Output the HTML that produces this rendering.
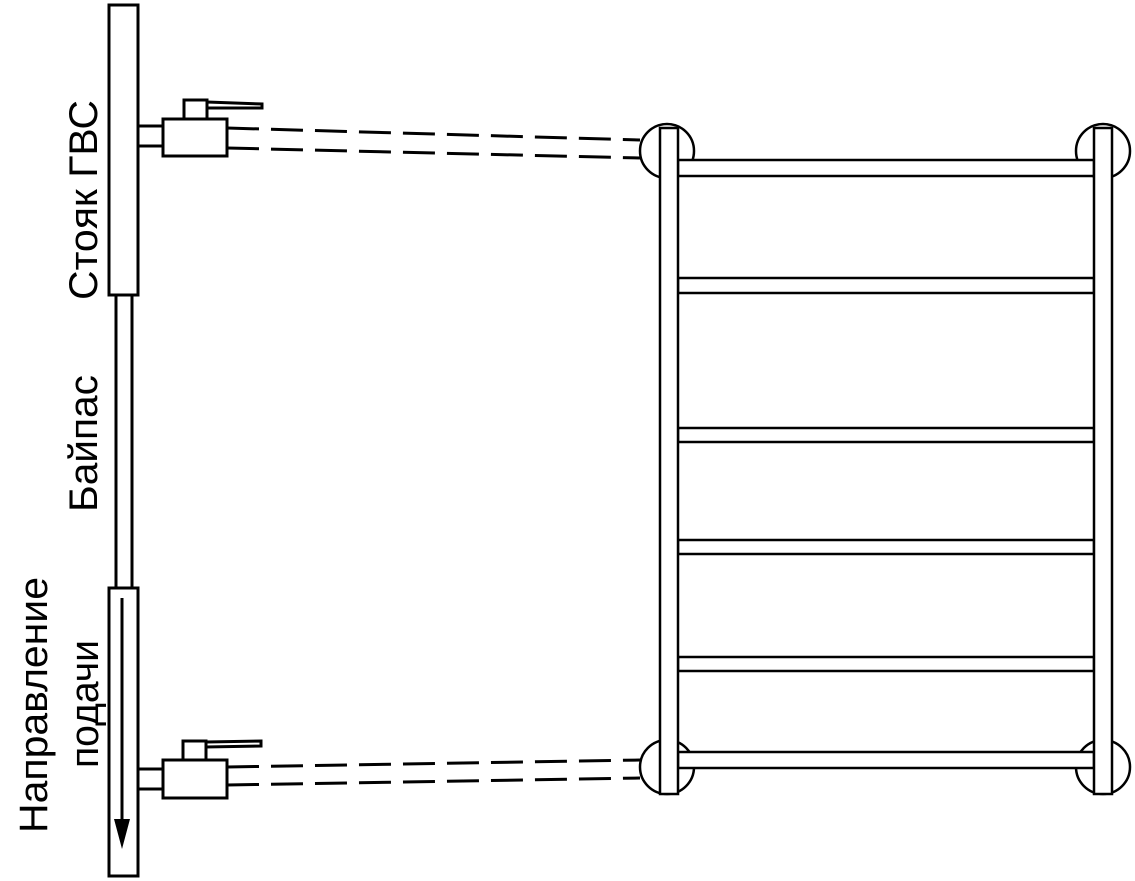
<!DOCTYPE html>
<html><head><meta charset="utf-8"><style>html,body{margin:0;padding:0;background:#fff}svg{display:block}</style></head>
<body>
<svg width="1135" height="881" viewBox="0 0 1135 881" xmlns="http://www.w3.org/2000/svg">
<g fill="#fff" stroke="#000" stroke-width="3">
<rect x="109" y="5" width="29" height="290"/>
<rect x="116" y="295" width="16" height="293"/>
<rect x="109" y="588" width="29" height="288"/>
<rect x="138" y="126" width="25" height="20"/>
<rect x="184" y="100" width="23" height="19"/>
<polygon points="207,102 262,104 262,108 207,108"/>
<rect x="163" y="119" width="64" height="37"/>
<rect x="138" y="769" width="25" height="20"/>
<rect x="183" y="741" width="23" height="19"/>
<polygon points="206,742 261,741 261,746 206,747"/>
<rect x="163" y="760" width="64" height="38"/>
</g>
<g stroke="#000" stroke-width="3" fill="none">
<line x1="227" y1="128" x2="640" y2="140" stroke-dasharray="32,12"/>
<line x1="227" y1="148" x2="640" y2="158" stroke-dasharray="32,12"/>
<line x1="227" y1="767" x2="640" y2="760" stroke-dasharray="32,12"/>
<line x1="227" y1="785" x2="640" y2="778" stroke-dasharray="32,12"/>
<line x1="122" y1="598" x2="122" y2="825"/>
</g>
<polygon points="114,819 130,819 122,849" fill="#000"/>
<g fill="#fff" stroke="#000" stroke-width="2.5">
<ellipse cx="667" cy="151" rx="27" ry="27"/>
<ellipse cx="1103" cy="151" rx="27" ry="27"/>
<ellipse cx="667" cy="767" rx="27" ry="27"/>
<ellipse cx="1103" cy="767" rx="27" ry="27"/>
<rect x="678" y="160" width="416" height="16"/>
<rect x="678" y="278" width="416" height="15"/>
<rect x="678" y="428" width="416" height="14"/>
<rect x="678" y="540" width="416" height="14"/>
<rect x="678" y="657" width="416" height="14"/>
<rect x="678" y="752" width="416" height="16"/>
<rect x="660" y="128" width="18" height="666"/>
<rect x="1094" y="128" width="18" height="666"/>
</g>
<g font-family="Liberation Sans, sans-serif" font-size="40" fill="#000">
<text transform="translate(97,300) rotate(-90)" textLength="200" lengthAdjust="spacingAndGlyphs">Стояк ГВС</text>
<text transform="translate(97,512) rotate(-90)" textLength="137" lengthAdjust="spacingAndGlyphs">Байпас</text>
<text transform="translate(47,833) rotate(-90)" textLength="256" lengthAdjust="spacingAndGlyphs">Направление</text>
<text transform="translate(98,768) rotate(-90)" textLength="128" lengthAdjust="spacingAndGlyphs">подачи</text>
</g>
</svg>
</body></html>
